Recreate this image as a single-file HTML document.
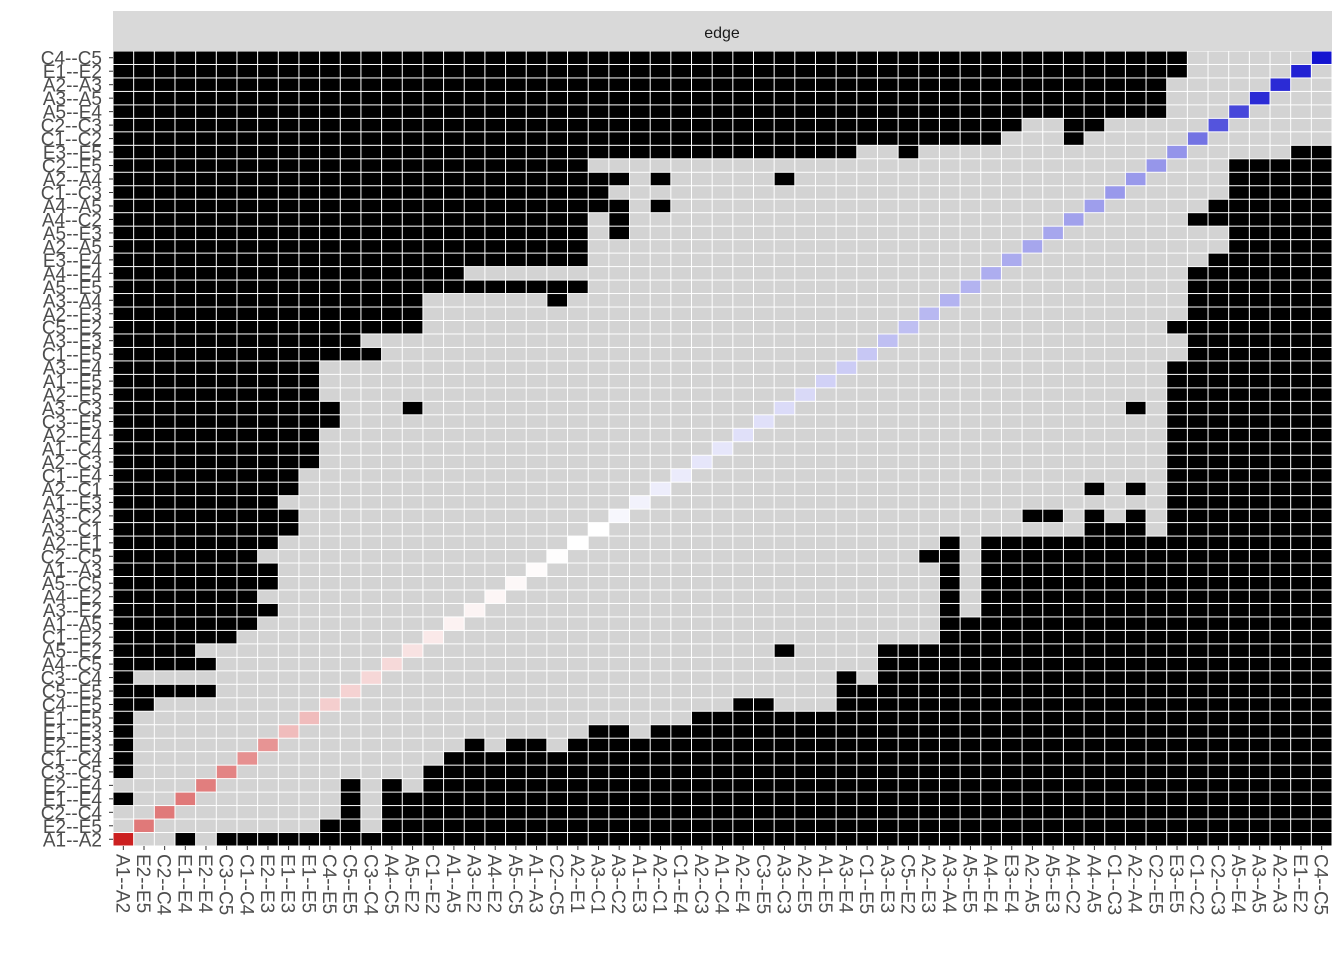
<!DOCTYPE html>
<html><head><meta charset="utf-8"><style>
html,body{margin:0;padding:0;background:#fff;}
svg{display:block;font-family:"Liberation Sans",sans-serif;}
</style></head><body>
<svg id="chart" width="1344" height="960" viewBox="0 0 1344 960" xmlns="http://www.w3.org/2000/svg">
<rect x="0" y="0" width="1344" height="960" fill="#fff"/>
<g>
<rect x="113" y="11" width="1219" height="40" fill="#D9D9D9"/>
<text x="722" y="38" text-anchor="middle" font-size="16" fill="#1a1a1a">edge</text>
</g>
<g id="cells"></g>
<g id="xlabels"></g>
<g id="ylabels"></g>
</svg>
<script>
const categories = ["A1--A2","E2--E5","C2--C4","E1--E4","E2--E4","C3--C5","C1--C4","E2--E3","E1--E3","E1--E5","C4--E5","C5--E5","C3--C4","A4--C5","A5--E2","C1--E2","A1--A5","A3--E2","A4--E2","A5--C5","A1--A3","C2--C5","A2--E1","A3--C1","A3--C2","A1--E3","A2--C1","C1--E4","A2--C3","A1--C4","A2--E4","C3--E5","A3--C3","A2--E5","A1--E5","A3--E4","C1--E5","A3--E3","C5--E2","A2--E3","A3--A4","A5--E5","A4--E4","E3--E4","A2--A5","A5--E3","A4--C2","A4--A5","C1--C3","A2--A4","C2--E5","E3--E5","C1--C2","C2--C3","A5--E4","A3--A5","A2--A3","E1--E2","C4--C5"];
// black cell column ranges per row, rows listed from top (C4--C5) to bottom (A1--A2)
const blackRuns = ["0-51","0-51","0-50","0-50","0-50","0-43,46-47","0-42,46","0-35,38,57-58","0-22,54-58","0-24,26,32,54-58","0-23,54-58","0-24,26,53-58","0-22,24,52-58","0-22,24,54-58","0-22,54-58","0-22,53-58","0-16,52-58","0-22,52-58","0-14,21,52-58","0-14,52-58","0-14,51-58","0-11,52-58","0-12,52-58","0-9,51-58","0-9,51-58","0-9,51-58","0-10,14,49,51-58","0-10,51-58","0-9,51-58","0-9,51-58","0-9,51-58","0-8,51-58","0-8,47,49,51-58","0-7,51-58","0-8,44-45,47,49,51-58","0-8,47-49,51-58","0-7,40,42-58","0-6,39-40,42-58","0-7,40,42-58","0-7,40,42-58","0-6,40,42-58","0-7,40,42-58","0-6,40-58","0-5,40-58","0-3,32,37-58","0-4,37-58","0,35,37-58","0-4,35-58","0-1,30-31,35-58","0,28-58","0,23-24,26-58","0,17,19-20,22-58","0,16-58","0,15-58","11,13,15-58","0,11,13-58","11,13-58","10-11,13-58","3,5-58"];
// diagonal values by category (-1 red .. 1 blue)
const diagValues = [-1,-0.6,-0.6,-0.6,-0.58,-0.55,-0.5,-0.48,-0.3,-0.3,-0.22,-0.2,-0.18,-0.17,-0.13,-0.1,-0.06,-0.05,-0.04,-0.03,-0.02,-0.01,0,0,0.03,0.05,0.07,0.08,0.1,0.1,0.12,0.12,0.14,0.15,0.18,0.2,0.22,0.25,0.25,0.28,0.3,0.3,0.32,0.33,0.35,0.35,0.37,0.38,0.4,0.4,0.41,0.42,0.55,0.67,0.72,0.83,0.83,0.87,0.92,1];

const NS = "http://www.w3.org/2000/svg";
const X0 = 113, X1 = 1332, Y0 = 51, Y1 = 846;
const n = categories.length;
const cw = (X1 - X0) / n, ch = (Y1 - Y0) / n;
function xPos(j){ return X0 + j * cw; }
function yPos(i){ return Y1 - (i + 1) * ch; }
function diagColor(v){
  const t = Math.min(1, Math.abs(v));
  const tgt = v < 0 ? [204,32,32] : [0,0,204];
  const c = tgt.map(k => Math.round(255 + (k - 255) * t));
  return `rgb(${c[0]},${c[1]},${c[2]})`;
}
const cells = document.getElementById('cells');
blackRuns.forEach((runStr, r) => {
  const i = n - 1 - r;
  const black = new Set();
  runStr.split(',').forEach(p => {
    const [a, b] = p.split('-').map(Number);
    for (let k = a; k <= (b === undefined ? a : b); k++) black.add(k);
  });
  for (let j = 0; j < n; j++) {
    let fill = black.has(j) ? '#000' : '#D3D3D3';
    if (j === i) fill = diagColor(diagValues[j]);
    const rect = document.createElementNS(NS, 'rect');
    rect.setAttribute('x', xPos(j) + 0.5);
    rect.setAttribute('y', yPos(i) + 0.5);
    rect.setAttribute('width', cw - 1);
    rect.setAttribute('height', ch - 1);
    rect.setAttribute('fill', fill);
    
    
    cells.appendChild(rect);
  }
});
const xl = document.getElementById('xlabels');
const yl = document.getElementById('ylabels');
categories.forEach((c, j) => {
  const cx = xPos(j) + cw / 2;
  const tk = document.createElementNS(NS, 'line');
  tk.setAttribute('x1', cx); tk.setAttribute('x2', cx);
  tk.setAttribute('y1', Y1); tk.setAttribute('y2', Y1 + 4);
  tk.setAttribute('stroke', '#333'); tk.setAttribute('stroke-width', '1');
  
  
  xl.appendChild(tk);
  const t = document.createElementNS(NS, 'text');
  t.setAttribute('transform', `translate(${cx - 7},${Y1 + 8}) rotate(90)`);
  t.setAttribute('font-size', '19');
  t.setAttribute('fill', '#4D4D4D');
  t.textContent = c;
  
  
  xl.appendChild(t);
  const cy = yPos(j) + ch / 2;
  const tk2 = document.createElementNS(NS, 'line');
  tk2.setAttribute('x1', X0 - 4); tk2.setAttribute('x2', X0);
  tk2.setAttribute('y1', cy); tk2.setAttribute('y2', cy);
  tk2.setAttribute('stroke', '#333'); tk2.setAttribute('stroke-width', '1');
  
  
  yl.appendChild(tk2);
  const t2 = document.createElementNS(NS, 'text');
  t2.setAttribute('x', X0 - 11);
  t2.setAttribute('y', cy + 7);
  t2.setAttribute('text-anchor', 'end');
  t2.setAttribute('font-size', '19');
  t2.setAttribute('fill', '#4D4D4D');
  t2.textContent = c;
  
  
  yl.appendChild(t2);
});
</script>
</body></html>
